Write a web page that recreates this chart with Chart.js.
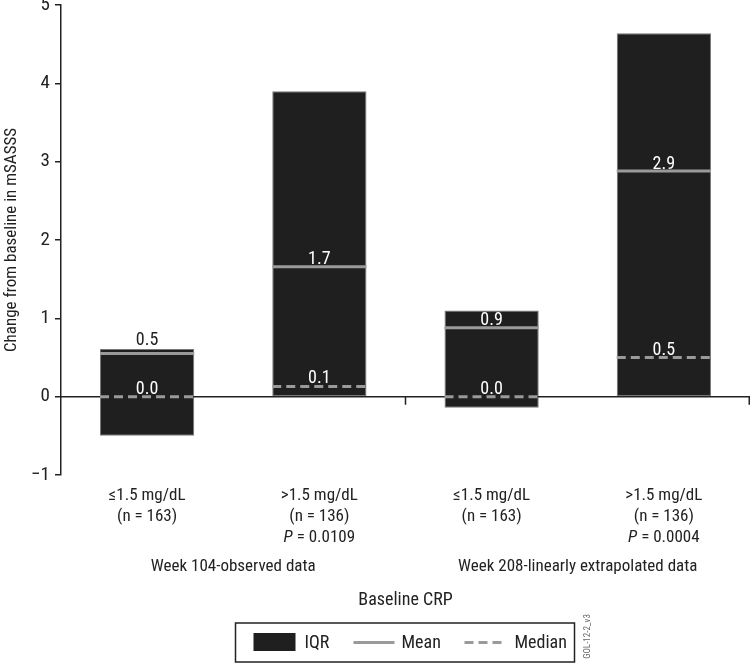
<!DOCTYPE html>
<html>
<head>
<meta charset="utf-8">
<title>Change from baseline in mSASSS by baseline CRP</title>
<script src="https://cdn.jsdelivr.net/npm/chart.js@4.4.1/dist/chart.umd.min.js"></script>
<style>
  html, body { margin: 0; padding: 0; background: #fff; }
  canvas { display: block; }
</style>
</head>
<body>
<canvas id="chart" width="752" height="665"></canvas>
<script>
// data
var categories = ['≤1.5 mg/dL', '>1.5 mg/dL', '≤1.5 mg/dL', '>1.5 mg/dL'];
var sampleSizes = ['(n = 163)', '(n = 136)', '(n = 163)', '(n = 136)'];
var pValues = ['', '0.0109', '', '0.0004'];
var groups = ['Week 104-observed data', 'Week 208-linearly extrapolated data'];
var iqrLow = [-0.5, 0.0, -0.14, 0.0];
var iqrHigh = [0.61, 3.9, 1.1, 4.64];
var means = [0.55, 1.66, 0.88, 2.88];
var medians = [0.0, 0.13, 0.0, 0.5];
var meanLabels = ['0.5', '1.7', '0.9', '2.9'];
var medianLabels = ['0.0', '0.1', '0.0', '0.5'];
var yTicks = [-1, 0, 1, 2, 3, 4, 5];

var FONT = "'Liberation Sans Narrow', 'Roboto Condensed', 'DejaVu Sans Condensed', 'Liberation Sans', sans-serif";
var INK = '#222222';
var GREY = '#9a9a9a';

function fnt(size, style) {
  return (style ? style + ' ' : '') + size + 'px ' + FONT;
}

var overlay = {
  id: 'overlay',
  afterDatasetsDraw: function (chart) {
    var ctx = chart.ctx;
    var y = chart.scales.y;
    var x = chart.scales.x;
    var area = chart.chartArea;
    var bars = chart.getDatasetMeta(0).data;
    var y0 = y.getPixelForValue(0);

    ctx.save();
    // zero line with group separator ticks
    ctx.strokeStyle = INK;
    ctx.lineWidth = 1.5;
    ctx.beginPath();
    ctx.moveTo(area.left, y0);
    ctx.lineTo(area.right, y0);
    var sep = (x.getPixelForValue(1) + x.getPixelForValue(2)) / 2;
    ctx.moveTo(sep, y0);
    ctx.lineTo(sep, y0 + 8);
    ctx.moveTo(area.right - 0.75, y0);
    ctx.lineTo(area.right - 0.75, y0 + 8);
    ctx.stroke();

    ctx.font = fnt(18);
    ctx.textAlign = 'center';
    ctx.textBaseline = 'alphabetic';
    bars.forEach(function (bar, i) {
      var half = bar.width / 2;
      var ym = y.getPixelForValue(means[i]);
      var yd = y.getPixelForValue(medians[i]);
      var top = Math.min(bar.y, bar.base);

      ctx.lineWidth = 3;
      ctx.strokeStyle = GREY;
      ctx.setLineDash([]);
      ctx.beginPath();
      ctx.moveTo(bar.x - half, ym);
      ctx.lineTo(bar.x + half, ym);
      ctx.stroke();

      ctx.setLineDash([9, 5]);
      ctx.beginPath();
      ctx.moveTo(bar.x - half, yd);
      ctx.lineTo(bar.x + half, yd);
      ctx.stroke();
      ctx.setLineDash([]);

      // mean label: above the bar if it does not fit inside
      if (ym - top < 12) {
        ctx.fillStyle = INK;
        ctx.fillText(meanLabels[i], bar.x, top - 4);
      } else {
        ctx.fillStyle = '#ffffff';
        ctx.fillText(meanLabels[i], bar.x, ym - 2.5);
      }
      ctx.fillStyle = '#ffffff';
      ctx.fillText(medianLabels[i], bar.x, yd - 3);
    });
    ctx.restore();
  },
  afterDraw: function (chart) {
    var ctx = chart.ctx;
    var x = chart.scales.x;
    var area = chart.chartArea;
    var b = area.bottom;
    var mid = (area.left + area.right) / 2;

    ctx.save();
    ctx.fillStyle = INK;
    ctx.textBaseline = 'middle';
    ctx.textAlign = 'center';
    ctx.font = fnt(17);
    categories.forEach(function (c, i) {
      var cx = x.getPixelForValue(i);
      ctx.fillText(c, cx, b + 21);
      ctx.fillText(sampleSizes[i], cx, b + 42);
      if (pValues[i]) {
        ctx.font = fnt(17, 'italic');
        var wp = ctx.measureText('P').width;
        ctx.font = fnt(17);
        var rest = ' = ' + pValues[i];
        var wr = ctx.measureText(rest).width;
        var sx = cx - (wp + wr) / 2;
        ctx.textAlign = 'left';
        ctx.font = fnt(17, 'italic');
        ctx.fillText('P', sx, b + 63);
        ctx.font = fnt(17);
        ctx.fillText(rest, sx + wp, b + 63);
        ctx.textAlign = 'center';
      }
    });
    groups.forEach(function (g, k) {
      var gx = (x.getPixelForValue(2 * k) + x.getPixelForValue(2 * k + 1)) / 2;
      ctx.fillText(g, gx, b + 92);
    });
    ctx.font = fnt(18);
    ctx.fillText('Baseline CRP', mid, b + 125);

    // legend
    var lx = mid - 170, ly = b + 148, lw = 339, lh = 39;
    ctx.strokeStyle = INK;
    ctx.lineWidth = 1.5;
    ctx.strokeRect(lx, ly, lw, lh);
    var cy = ly + lh / 2;
    ctx.fillStyle = '#1f1f1f';
    ctx.fillRect(lx + 18, ly + 10, 42, 18);
    ctx.strokeStyle = GREY;
    ctx.lineWidth = 3;
    ctx.beginPath();
    ctx.moveTo(lx + 118, cy);
    ctx.lineTo(lx + 159, cy);
    ctx.stroke();
    ctx.setLineDash([9, 5]);
    ctx.beginPath();
    ctx.moveTo(lx + 229, cy);
    ctx.lineTo(lx + 270, cy);
    ctx.stroke();
    ctx.setLineDash([]);
    ctx.fillStyle = INK;
    ctx.textAlign = 'left';
    ctx.font = fnt(18);
    ctx.fillText('IQR', lx + 69, cy + 1);
    ctx.fillText('Mean', lx + 166, cy + 1);
    ctx.fillText('Median', lx + 279, cy + 1);

    // figure code
    ctx.translate(lx + lw + 13, ly + lh / 2 - 6);
    ctx.rotate(-Math.PI / 2);
    ctx.textAlign = 'center';
    ctx.fillStyle = '#666';
    ctx.font = fnt(9);
    ctx.fillText('GOL-12-2_v3', 0, 0);
    ctx.restore();
  }
};

var data = {
  labels: categories,
  datasets: [{
    label: 'IQR',
    data: iqrLow.map(function (lo, i) { return [lo, iqrHigh[i]]; }),
    backgroundColor: '#1f1f1f',
    borderColor: '#777777',
    borderWidth: 1,
    borderSkipped: false,
    barPercentage: 0.547,
    categoryPercentage: 1
  }]
};

new Chart(document.getElementById('chart'), {
  type: 'bar',
  data: data,
  options: {
    responsive: false,
    animation: false,
    devicePixelRatio: 1,
    layout: { padding: { left: 0, top: 5, right: 2, bottom: 190 } },
    plugins: {
      legend: { display: false },
      tooltip: { enabled: false }
    },
    scales: {
      x: { display: false },
      y: {
        min: -1,
        max: 5,
        afterBuildTicks: function (s) {
          s.ticks = yTicks.map(function (v) { return { value: v }; });
        },
        afterFit: function (s) {
          s.width = 61;
          s.paddingTop = 0;
          s.paddingBottom = 0;
        },
        ticks: {
          color: INK,
          padding: 5,
          font: { family: FONT, size: 19 },
          callback: function (v) { return String(v).replace('-', '\u2212'); }
        },
        grid: { drawOnChartArea: false, drawTicks: true, tickLength: 6, color: INK, lineWidth: 1.5 },
        border: { display: true, color: INK, width: 1.5 },
        title: {
          display: true,
          text: 'Change from baseline in mSASSS',
          color: INK,
          font: { family: FONT, size: 17 },
          padding: { top: 2, bottom: 0 }
        }
      }
    }
  },
  plugins: [overlay]
});
</script>
</body>
</html>
